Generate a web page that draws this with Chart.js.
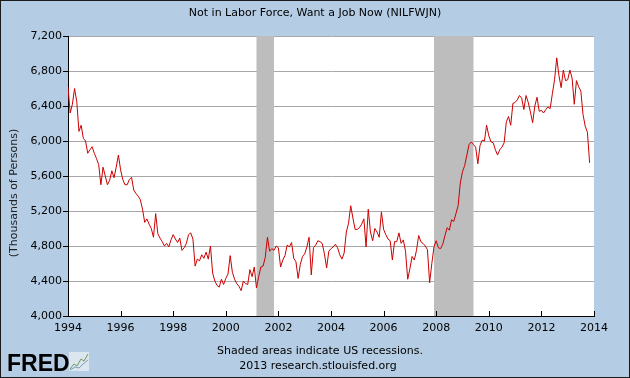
<!DOCTYPE html>
<html>
<head>
<meta charset="utf-8">
<script src="https://cdn.jsdelivr.net/npm/chart.js@4/dist/chart.umd.min.js"></script>
<style>
html,body{margin:0;padding:0;background:#b4cde4;}
canvas{display:block;}
</style>
</head>
<body>
<canvas id="c" width="630" height="378"></canvas>
<script>
const chartTitle = 'Not in Labor Force, Want a Job Now (NILFWJN)';
const yAxisTitle = '(Thousands of Persons)';
const footerLines = ['Shaded areas indicate US recessions.', '2013 research.stlouisfed.org'];
const logoText = 'FRED';
const startYear = 1994;
const xTickYears = [1994, 1996, 1998, 2000, 2002, 2004, 2006, 2008, 2010, 2012, 2014];
const yTickValues = [4000, 4400, 4800, 5200, 5600, 6000, 6400, 6800, 7200];
const recessionStart = [2001.167, 2007.917];
const recessionEnd = [2001.833, 2009.417];
// Monthly values, Jan 1994 .. Nov 2013 (thousands of persons)
const nilfwjn = [
  6620, 6320, 6420, 6600, 6450, 6110, 6180, 6030, 6000, 5860, 5900, 5935,
  5860, 5800, 5730, 5500, 5700, 5600, 5500, 5550, 5660, 5580, 5700, 5840,
  5670, 5560, 5500, 5500, 5560, 5585, 5440, 5400, 5370, 5330, 5220, 5070,
  5110, 5050, 5000, 4900, 5170, 4940, 4890, 4850, 4800, 4830, 4790, 4870,
  4930, 4880, 4840, 4890, 4750, 4780, 4830, 4930, 4950, 4880, 4570, 4650,
  4630, 4700, 4660, 4730, 4650, 4800, 4490, 4400, 4350, 4330, 4420, 4360,
  4430, 4480, 4690, 4500, 4420, 4370, 4340, 4290, 4400, 4370, 4360, 4530,
  4450, 4560, 4320, 4450, 4560, 4570, 4670, 4900, 4740, 4770, 4750, 4800,
  4780, 4560, 4640, 4690, 4810, 4790, 4840, 4660, 4620, 4430, 4590, 4680,
  4710, 4790, 4900, 4470, 4780, 4810, 4860, 4850, 4830, 4710, 4550, 4740,
  4770, 4790, 4820, 4780, 4700, 4650, 4720, 4960, 5060, 5260, 5120, 4990,
  4990, 5010, 5050, 5110, 4790, 5220, 4960, 4860, 5000, 4960, 4900, 5190,
  4990, 4930, 4880, 4860, 4640, 4850, 4850, 4950, 4830, 4870, 4740, 4420,
  4540, 4680, 4640, 4750, 4920, 4850, 4830, 4800, 4760, 4380, 4600, 4790,
  4860, 4780, 4770, 4820, 4920, 5010, 4980, 5100, 5080, 5170, 5260, 5520,
  5650, 5720, 5840, 5960, 5990, 5960, 5930, 5740, 5950, 6010, 6000, 6180,
  6060, 5990, 5980, 5900, 5840, 5900, 5930, 5980, 6220, 6280, 6180, 6430,
  6440, 6470, 6520, 6490, 6360, 6520, 6440, 6330, 6210, 6400, 6500, 6340,
  6350, 6320, 6360, 6390, 6370, 6540, 6700, 6950, 6750, 6610, 6810, 6690,
  6700, 6810, 6720, 6420, 6690, 6620, 6570, 6300, 6170, 6100, 5750
];

const points = nilfwjn.map((v, i) => ({ x: startYear + i / 12, y: v }));
const FONT = '"DejaVu Sans", Verdana, sans-serif';

const decor = {
  id: 'decor',
  beforeDraw(chart) {
    const { ctx, chartArea: a } = chart;
    ctx.save();
    ctx.fillStyle = '#b4cde4';
    ctx.fillRect(0, 0, chart.width, chart.height);
    ctx.fillStyle = '#ffffff';
    ctx.fillRect(a.left, a.top, a.right - a.left, a.bottom - a.top);
    ctx.restore();
  },
  beforeDatasetsDraw(chart) {
    const { ctx, chartArea: a, scales: { x } } = chart;
    ctx.save();
    ctx.fillStyle = '#bdbdbd';
    for (let i = 0; i < recessionStart.length; i++) {
      const x1 = x.getPixelForValue(recessionStart[i]);
      const x2 = x.getPixelForValue(recessionEnd[i]);
      ctx.fillRect(x1, a.top, x2 - x1, a.bottom - a.top);
    }
    ctx.restore();
  },
  afterDraw(chart) {
    const { ctx, chartArea: a, scales: { x } } = chart;
    ctx.save();
    // inward x ticks
    ctx.strokeStyle = '#000';
    ctx.lineWidth = 1;
    ctx.beginPath();
    xTickYears.forEach(yr => {
      const px = Math.round(x.getPixelForValue(yr)) + 0.5;
      ctx.moveTo(px, a.bottom);
      ctx.lineTo(px, a.bottom - 5);
    });
    ctx.stroke();
    // title
    ctx.fillStyle = '#000';
    ctx.font = '11px ' + FONT;
    ctx.textAlign = 'center';
    ctx.textBaseline = 'middle';
    ctx.fillText(chartTitle, 315, 13);
    // footer
    ctx.fillText(footerLines[0], 320, 351);
    ctx.fillText(footerLines[1], 318, 366);
    // y axis title
    ctx.save();
    ctx.translate(14, 193);
    ctx.rotate(-Math.PI / 2);
    ctx.fillStyle = '#222';
    ctx.fillText(yAxisTitle, 0, 0);
    ctx.restore();
    // FRED logo
    ctx.textAlign = 'left';
    ctx.textBaseline = 'alphabetic';
    ctx.font = 'bold 23px "Liberation Sans", Arial, sans-serif';
    ctx.fillStyle = '#000';
    ctx.fillText(logoText, 7, 371);
    ctx.fillStyle = '#dce6ef';
    ctx.fillRect(69, 352, 20, 19);
    ctx.strokeStyle = '#6e9a5e';
    ctx.beginPath();
    ctx.moveTo(70, 369); ctx.lineTo(74, 364); ctx.lineTo(77, 366); ctx.lineTo(81, 359); ctx.lineTo(84, 361); ctx.lineTo(88, 354);
    ctx.stroke();
    ctx.strokeStyle = '#7f9fbf';
    ctx.beginPath();
    ctx.moveTo(70, 370); ctx.lineTo(75, 367); ctx.lineTo(79, 368); ctx.lineTo(83, 364); ctx.lineTo(88, 360);
    ctx.stroke();
    // outer border
    ctx.strokeStyle = '#1a1a1a';
    ctx.strokeRect(0.5, 0.5, chart.width - 1, chart.height - 1);
    ctx.restore();
  }
};

new Chart(document.getElementById('c'), {
  type: 'line',
  data: {
    datasets: [{
      data: points,
      borderColor: '#cc0000',
      borderWidth: 1,
      pointRadius: 0,
      tension: 0,
      fill: false
    }]
  },
  options: {
    responsive: false,
    animation: false,
    devicePixelRatio: 1,
    parsing: true,
    layout: { padding: { top: 36, right: 36, left: 0, bottom: 0 } },
    plugins: { legend: { display: false }, tooltip: { enabled: false }, title: { display: false } },
    scales: {
      x: {
        type: 'linear',
        min: 1994,
        max: 2014,
        afterBuildTicks: s => { s.ticks = xTickYears.map(v => ({ value: v })); },
        afterFit: s => { s.height = 62; },
        grid: { display: false, drawTicks: false },
        border: { display: true, color: '#000', width: 1 },
        ticks: {
          callback: v => String(v),
          font: { family: FONT, size: 11 },
          color: '#000',
          padding: 6,
          maxRotation: 0,
          autoSkip: false
        }
      },
      y: {
        min: 4000,
        max: 7200,
        afterBuildTicks: s => { s.ticks = yTickValues.map(v => ({ value: v })); },
        afterFit: s => { s.width = 68; },
        grid: { color: '#a8a8a8', tickColor: '#000', tickLength: 5, drawTicks: true },
        border: { display: true, color: '#000', width: 1 },
        ticks: {
          callback: v => v.toLocaleString('en-US'),
          font: { family: FONT, size: 11 },
          color: '#000',
          padding: 1,
          autoSkip: false
        }
      }
    }
  },
  plugins: [decor]
});
</script>
</body>
</html>
